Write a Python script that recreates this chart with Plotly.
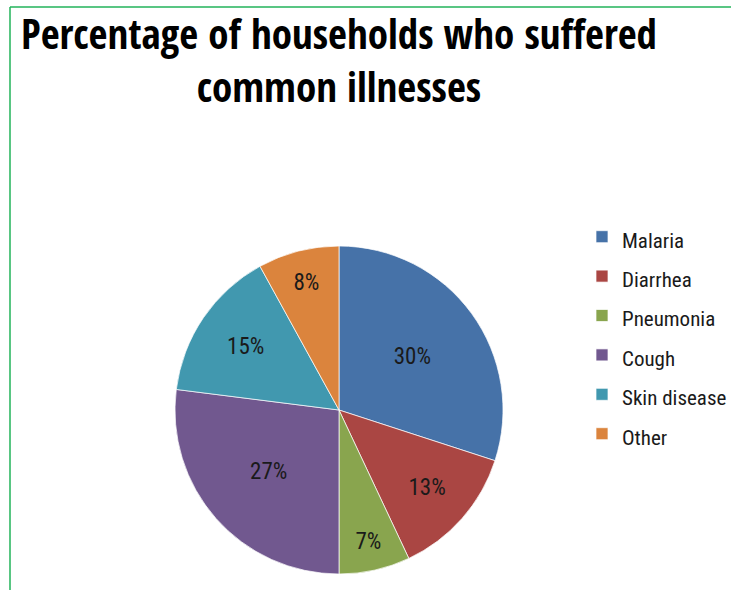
import plotly.graph_objects as go

labels = ["Malaria", "Diarrhea", "Pneumonia", "Cough", "Skin disease", "Other"]
values = [30, 13, 7, 27, 15, 8]
colors = ["#4672A8", "#AA4643", "#89A54E", "#71588F", "#4198AF", "#DB843D"]
title_lines = ["Percentage of households who suffered", "common illnesses"]

TITLE_FONT = "Open Sans Condensed, Roboto Condensed, sans-serif"
BODY_FONT = "Roboto Condensed, Open Sans Condensed, sans-serif"

W, H = 731, 590
cx, cy, r = 339, 410, 164

legend_labels = ['<span style="font-size:21px">%s</span>' % s for s in labels]

fig = go.Figure(go.Pie(
    labels=legend_labels,
    values=values,
    sort=False,
    direction="clockwise",
    rotation=0,
    marker=dict(colors=colors, line=dict(color="rgba(255,255,255,0.7)", width=1)),
    texttemplate="%{percent:.0%}",
    textposition="inside",
    insidetextorientation="horizontal",
    textfont=dict(family=BODY_FONT, size=23, color="#1a1a1a"),
    domain=dict(x=[(cx - r) / W, (cx + r) / W], y=[(H - cy - r) / H, (H - cy + r) / H]),
    hovertemplate="%{label}: %{percent}<extra></extra>",
))

fig.update_layout(
    width=W, height=H,
    margin=dict(l=0, r=0, t=0, b=0, autoexpand=False),
    paper_bgcolor="white",
    plot_bgcolor="white",
    annotations=[dict(
        text="<b>" + "<br>".join(title_lines) + "</b>",
        x=339 / W, xanchor="center", xref="paper",
        y=1 - 3 / H, yanchor="top", yref="paper",
        showarrow=False,
        font=dict(family=TITLE_FONT, size=41, color="black"),
    )],
    legend=dict(
        x=582 / W, xanchor="left", y=1 - 212 / H, yanchor="top",
        font=dict(family=BODY_FONT, size=28, color="#1a1a1a"),
        bgcolor="rgba(0,0,0,0)",
        itemwidth=30,
    ),
    shapes=[
        dict(type="line", xref="paper", yref="paper", x0=10 / W, x1=1, y0=1 - 7 / H, y1=1 - 7 / H,
             line=dict(color="#22B35A", width=1.5)),
        dict(type="line", xref="paper", yref="paper", x0=10 / W, x1=10 / W, y0=0, y1=1 - 7 / H,
             line=dict(color="#22B35A", width=1.5)),
    ],
)

fig.write_html("out.html")
